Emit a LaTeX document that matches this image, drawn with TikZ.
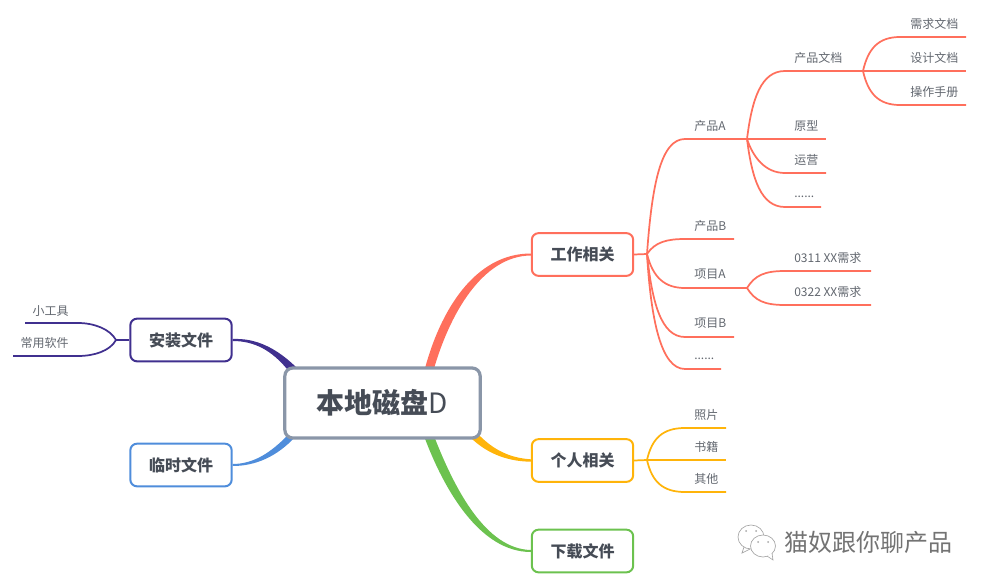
\documentclass[tikz,border=0pt]{standalone}
\usepackage{fontspec}
\setmainfont{Noto Sans CJK SC}
\usetikzlibrary{backgrounds}
\definecolor{inkgray}{HTML}{464C56}
\definecolor{rootgray}{HTML}{8A96A8}
\definecolor{worktone}{HTML}{FF6F5C}
\definecolor{lifetone}{HTML}{FFB40A}
\definecolor{loadtone}{HTML}{6CC24F}
\definecolor{setuptone}{HTML}{40308F}
\definecolor{temptone}{HTML}{4F8DDB}
\tikzset{
  topicbox/.style={draw,line width=1.5pt,fill=white,rounded corners=5pt,minimum width=76pt,minimum height=32pt,inner sep=0pt,text=inkgray,font=\fontsize{12pt}{14pt}\selectfont\bfseries},
  leaf/.style={inner sep=0pt,text=inkgray!85,font=\fontsize{9pt}{11pt}\selectfont},
  limb/.style={line width=1.3pt}
}
\begin{document}
\begin{tikzpicture}[x=0.75pt,y=-0.75pt]
\useasboundingbox (0,0) rectangle (982,585);
\node[draw=rootgray,line width=2.4pt,fill=white,rounded corners=6pt,minimum width=146.5pt,minimum height=52.5pt,inner sep=0pt,text=inkgray,font=\fontsize{21pt}{24pt}\selectfont] (root) at (382.5,403) {{\bfseries 本地磁盘}D};
\node[topicbox,draw=worktone] (work) at (582.5,254.5) {工作相关};
\node[topicbox,draw=lifetone] (life) at (582.5,460.5) {个人相关};
\node[topicbox,draw=loadtone] (load) at (582.5,551) {下载文件};
\node[topicbox,draw=setuptone] (setup) at (181,340) {安装文件};
\node[topicbox,draw=temptone] (temp) at (181,465) {临时文件};
\begin{scope}[on background layer]
\coordinate (worka) at (424,372);
\coordinate (workb) at (433,372);
\coordinate (lifea) at (470,437);
\coordinate (lifeb) at (477,433);
\coordinate (loada) at (424,436);
\coordinate (loadb) at (434,436);
\coordinate (setupa) at (287,369);
\coordinate (setupb) at (298,369);
\coordinate (tempa) at (287,436);
\coordinate (tempb) at (296,436);
\fill[worktone] (worka) .. controls (440,310) and (475,253.5) .. ([yshift=0.75pt]work.west) -- ([yshift=-0.75pt]work.west) .. controls (482,256) and (449,315) .. (workb) -- cycle;
\fill[lifetone] (lifea) .. controls (488,455) and (510,461.5) .. ([yshift=-0.9pt]life.west) -- ([yshift=0.9pt]life.west) .. controls (511,458) and (494,451) .. (lifeb) -- cycle;
\fill[loadtone] (loada) .. controls (444,490) and (480,552) .. ([yshift=-0.75pt]load.west) -- ([yshift=0.75pt]load.west) .. controls (486,549) and (455,490) .. (loadb) -- cycle;
\fill[setuptone] ([yshift=0.75pt]setup.east) .. controls (255,338) and (276,347) .. (setupb) -- (setupa) .. controls (272,351) and (255,341) .. ([yshift=-0.75pt]setup.east) -- cycle;
\fill[temptone] ([yshift=0.75pt]temp.east) .. controls (255,464) and (272,451) .. (tempa) -- (tempb) .. controls (277,457) and (255,466) .. ([yshift=-0.75pt]temp.east) -- cycle;
\end{scope}
\coordinate (workfork) at (647,254);
\coordinate (prodafork) at (747,139);
\coordinate (docfork) at (863,71);
\coordinate (itemafork) at (747,288);
\coordinate (lifefork) at (647,460);
\coordinate (setupfork) at (116,340);
\draw[limb,worktone] (work.east) -- (workfork);
\draw[limb,lifetone] (life.east) -- (lifefork);
\draw[limb,setuptone] (setup.west) -- (setupfork);
\node[leaf,anchor=west] (proda) at (694,126) {产品A};
\node[leaf,anchor=west] (prodb) at (694,226) {产品B};
\node[leaf,anchor=west] (itema) at (694,274.5) {项目A};
\node[leaf,anchor=west] (itemb) at (694,323.5) {项目B};
\node[leaf,anchor=west] (workmore) at (694,359) {......};
\node[leaf,anchor=west] (doc) at (794,58) {产品文档};
\node[leaf,anchor=west] (proto) at (794,126) {原型};
\node[leaf,anchor=west] (ops) at (794,160) {运营};
\node[leaf,anchor=west] (prodamore) at (794,197) {......};
\node[leaf,anchor=west] (reqdoc) at (910,24) {需求文档};
\node[leaf,anchor=west] (designdoc) at (910,58) {设计文档};
\node[leaf,anchor=west] (manual) at (910,92) {操作手册};
\node[leaf,anchor=west] (reqa) at (794,258) {0311 XX需求};
\node[leaf,anchor=west] (reqb) at (794,292) {0322 XX需求};
\node[leaf,anchor=west] (photo) at (694,414.5) {照片};
\node[leaf,anchor=west] (books) at (694,447) {书籍};
\node[leaf,anchor=west] (others) at (694,479) {其他};
\node[leaf,anchor=east] (tools) at (69,311) {小工具};
\node[leaf,anchor=east] (apps) at (69,343) {常用软件};
\draw[limb,worktone] (workfork) .. controls +(5,-70) and +(-24,0) .. (685,139) -- (prodafork);
\draw[limb,worktone] (workfork) .. controls +(8,-12) and +(-18,0) .. (685,239) -- (734,239);
\draw[limb,worktone] (workfork) .. controls +(6,24) and +(-20,0) .. (685,288) -- (itemafork);
\draw[limb,worktone] (workfork) .. controls +(5,48) and +(-24,0) .. (685,337) -- (734,337);
\draw[limb,worktone] (workfork) .. controls +(4,66) and +(-24,0) .. (685,369) -- (721,369);
\draw[limb,worktone] (prodafork) .. controls +(5,-40) and +(-24,0) .. (785,71) -- (docfork);
\draw[limb,worktone] (prodafork) -- (826,139);
\draw[limb,worktone] (prodafork) .. controls +(6,18) and +(-20,0) .. (785,173) -- (826,173);
\draw[limb,worktone] (prodafork) .. controls +(5,40) and +(-24,0) .. (785,207) -- (821,207);
\draw[limb,worktone] (docfork) .. controls +(5,-22) and +(-22,0) .. (900,37) -- (966,37);
\draw[limb,worktone] (docfork) -- (966,71);
\draw[limb,worktone] (docfork) .. controls +(5,22) and +(-22,0) .. (900,105) -- (966,105);
\draw[limb,worktone] (itemafork) .. controls +(8,-13) and +(-20,0) .. (785,271) -- (871,271);
\draw[limb,worktone] (itemafork) .. controls +(8,13) and +(-20,0) .. (785,305) -- (871,305);
\draw[limb,lifetone] (lifefork) .. controls +(5,-22) and +(-22,0) .. (685,428) -- (726,428);
\draw[limb,lifetone] (lifefork) -- (726,460);
\draw[limb,lifetone] (lifefork) .. controls +(5,22) and +(-22,0) .. (685,492) -- (726,492);
\draw[limb,setuptone] (setupfork) .. controls +(-6,-11) and +(16,0) .. (78,323) -- (25,323);
\draw[limb,setuptone] (setupfork) .. controls +(-6,11) and +(16,0) .. (78,356) -- (13,356);
\draw[gray!70,line width=0.5pt] (751,537) ellipse [x radius=13,y radius=12];
\draw[gray!70,line width=0.5pt] (744,547) -- (742,553) -- (750,549);
\fill[gray!70] (746,531) circle (1) (756,531) circle (1);
\draw[gray!70,line width=0.5pt,fill=white] (763,546) ellipse [x radius=12.5,y radius=11];
\draw[gray!70,line width=0.5pt,fill=white] (767,556) -- (773,560) -- (772,553);
\fill[gray!70] (758,542) circle (1) (768,542) circle (1);
\node[inner sep=0pt,anchor=west,text=black!55,font=\fontsize{18pt}{20pt}\selectfont] (mark) at (784,542) {猫奴跟你聊产品};
\end{tikzpicture}
\end{document}
